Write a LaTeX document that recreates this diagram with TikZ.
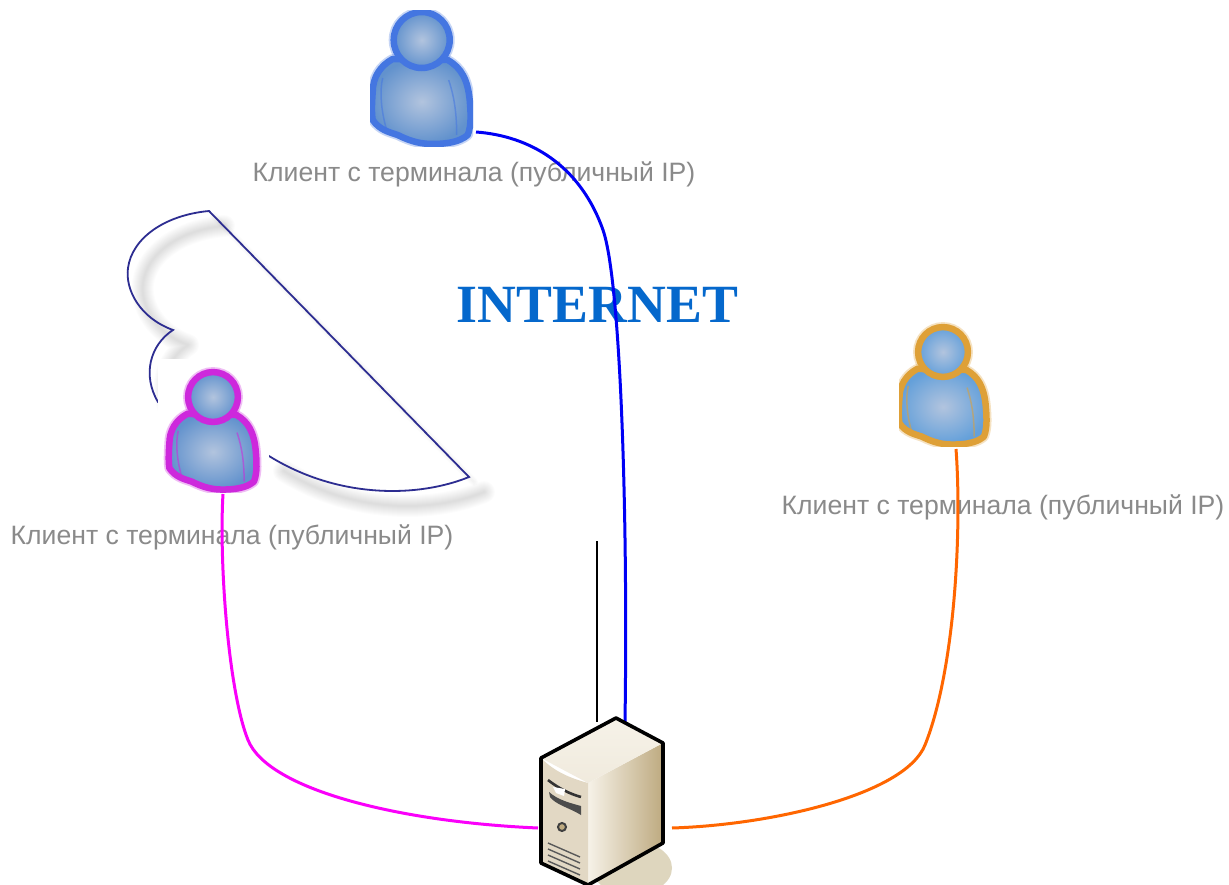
\documentclass[tikz,border=0pt]{standalone}
\usepackage{fontspec}
\setmainfont{Liberation Sans}
\newfontfamily\inetfont{Liberation Serif}
\usetikzlibrary{shadings,positioning}
\definecolor{lbl}{RGB}{138,138,138}
\definecolor{inet}{RGB}{5,104,204}
\definecolor{navy}{RGB}{45,45,145}
\definecolor{wblue}{RGB}{0,0,245}
\definecolor{wmag}{RGB}{250,0,250}
\definecolor{worg}{RGB}{255,102,0}
\definecolor{edgeblue}{RGB}{68,118,225}
\definecolor{edgemag}{RGB}{205,40,220}
\definecolor{edgeorg}{RGB}{222,160,55}
\definecolor{facelight}{RGB}{178,196,222}
\definecolor{faceblue}{RGB}{98,146,205}
\definecolor{facesky}{RGB}{100,160,218}
\definecolor{srvlight}{RGB}{246,242,232}
\definecolor{srvmid}{RGB}{226,216,196}
\definecolor{srvdark}{RGB}{190,170,128}
\definecolor{srvshadow}{RGB}{222,214,190}
\tikzset{
  x=1pt,y=-1pt,
  wire/.style={line width=3pt,line cap=butt},
  lbltext/.style={text=lbl,font=\fontsize{26.6}{30}\selectfont,inner sep=0pt,anchor=base},
  cloudline/.style={draw=navy,line width=1.8pt,line join=miter},
  shadowline/.style={draw=black,opacity=.013,line cap=round,line join=round},
  iconbox/.style={inner sep=0pt,outer sep=0pt},
}
\newcommand{\bodypath}{(-29,19) .. controls (-42,26) and (-49,38) .. (-49,52)
      .. controls (-50,65) and (-50,74) .. (-49,80)
      .. controls (-42,90) and (-33,92) .. (-24,95)
      .. controls (-10,102) and (0,104) .. (11,104)
      .. controls (25,104) and (38,102) .. (46,95)
      .. controls (50,85) and (49,72) .. (48,60)
      .. controls (46,40) and (40,28) .. (26,20) -- cycle}
\newcommand{\personicon}[6]{%
  % #1 head x, #2 head y, #3 scale, #4 edge colour, #5 outer fill, #6 clipping node
  \begin{scope}
    \clip (#6.south west) rectangle (#6.north east);
    \begin{scope}[shift={(#1,#2)},scale=#3]
      \draw[#4,line width=10pt,opacity=.3,line join=round] \bodypath;
      \draw[#4,line width=10pt,opacity=.3] (0,0) circle[radius=28];
      \path[draw=#4,line width=6.5pt,line join=round,inner color=facelight,outer color=#5] \bodypath;
      \draw[#4,line width=1.5pt,opacity=.55] (-39,38) .. controls (-42,50) and (-41,70) .. (-35,90);
      \draw[#4,line width=1.5pt,opacity=.55] (27,40) .. controls (33,58) and (35,75) .. (35,95);
      \path[draw=#4,line width=6.5pt,inner color=facelight,outer color=#5] (0,0) circle[radius=28];
    \end{scope}
  \end{scope}}
\begin{document}
\begin{tikzpicture}
\useasboundingbox (0,0) rectangle (1229,885);
\fill[white] (0,0) rectangle (1229,885);
% cloud shadow
\foreach \w in {22,20,18,16,14,12,10,8,6,4,2}{
  \draw[shadowline,line width=\w pt,shift={(15,15)}]
    (469,477) .. controls (420,497) and (340,500) .. (269,456)
    (158,402) .. controls (142,375) and (150,345) .. (173,330)
    .. controls (140,318) and (125,290) .. (128,268) .. controls (132,238) and (165,215) .. (209,211);
}
\foreach \w in {8,6,4,2}{
  \draw[shadowline,line width=\w pt,shift={(5,5)}] (209,211) -- (469,477);
}
% cloud
\draw[cloudline]
  (209,211) -- (469,477) .. controls (420,497) and (340,500) .. (269,456)
  -- (158,402) .. controls (142,375) and (150,345) .. (173,330)
  .. controls (140,318) and (125,290) .. (128,268) .. controls (132,238) and (165,215) .. (209,211) -- cycle;
% nodes
\node[iconbox,minimum width=103pt,minimum height=136pt] (clientTop) at (421.5,79) {};
\node[iconbox,fill=white,minimum width=111pt,minimum height=133pt] (clientLeft) at (213.5,425.5) {};
\node[iconbox,fill=white,minimum width=93pt,minimum height=132pt] (clientRight) at (945.5,380) {};
\node[iconbox,minimum width=125pt,minimum height=167pt] (server) at (602,801.5) {};
\coordinate (stub) at (597,541);
% icons
\personicon{421.7}{40}{1.0}{edgeblue}{faceblue}{clientTop}
\personicon{213}{397}{0.89}{edgemag}{faceblue}{clientLeft}
\personicon{943}{352}{0.89}{edgeorg}{facesky}{clientRight}
% labels
\node[lbltext] (lblTop) at (474,182) {Клиент с терминала (публичный IP)};
\node[lbltext] (lblLeft) at (232,544) {Клиент с терминала (публичный IP)};
\node[lbltext] (lblRight) at (1003,514) {Клиент с терминала (публичный IP)};
\node[text=inet,font=\inetfont\bfseries\fontsize{53.8}{56}\selectfont,inner sep=0pt,anchor=base] (inet) at (597.5,323) {INTERNET};
% wires
\draw[wire,wblue] ([xshift=3pt,yshift=-53pt]clientTop.east)
  .. controls (530,136) and (580,165) .. (603,230)
  .. controls (621,282) and (628,520) .. ([xshift=23pt,yshift=-4pt]server.north);
\draw[wire,wmag] ([xshift=9.5pt,yshift=-2pt]clientLeft.south) .. controls (219,560) and (228,690) .. (248,740)
  .. controls (268,790) and (400,822) .. ([xshift=-1.5pt,yshift=-26.5pt]server.west);
\draw[wire,worg] ([xshift=10.5pt,yshift=-3pt]clientRight.south) .. controls (962,530) and (955,670) .. (925,745)
  .. controls (905,795) and (770,825) .. ([xshift=7.5pt,yshift=-26.5pt]server.east);
\draw[line width=2pt,black] (stub) -- ([xshift=-5pt,yshift=-4pt]server.north);
% server
\fill[srvshadow] (632,868) ellipse[x radius=40,y radius=27];
\path[left color=srvlight,right color=srvdark]
  (588,783) -- (663,743) -- (663,843) -- (588,885) -- cycle;
\path[top color=srvlight,bottom color=srvlight!70!srvmid]
  (541,758) -- (616,718) -- (663,743) -- (588,783) -- cycle;
\path[fill=srvmid] (541,758) .. controls (555,772) and (570,778) .. (588,783) -- (588,885) -- (541,863) -- cycle;
\draw[line width=3.6pt,line join=round] (541,758) -- (616,718) -- (663,743) -- (663,843) -- (588,885) -- (541,863) -- cycle;
\draw[line width=2.6pt,black!80] (548,780) .. controls (558,788) and (570,794) .. (581,797);
\fill[black!70] (549,792) .. controls (558,800) and (570,803) .. (581,806) -- (581,815) .. controls (570,808) and (556,805) .. (550,797) -- cycle;
\fill[white] (553,787) -- (565,789) -- (564,796) -- (556,793) -- cycle;
\draw[black!75,line width=2pt,fill=srvdark] (562,827) circle[radius=4];
\foreach \d in {0,6,12,18}{\draw[black!65,line width=1.4pt] (548,843+\d) -- (580,857+\d);}
\draw[black,line width=3.6pt] (541,758) -- (541,863);
\end{tikzpicture}
\end{document}
